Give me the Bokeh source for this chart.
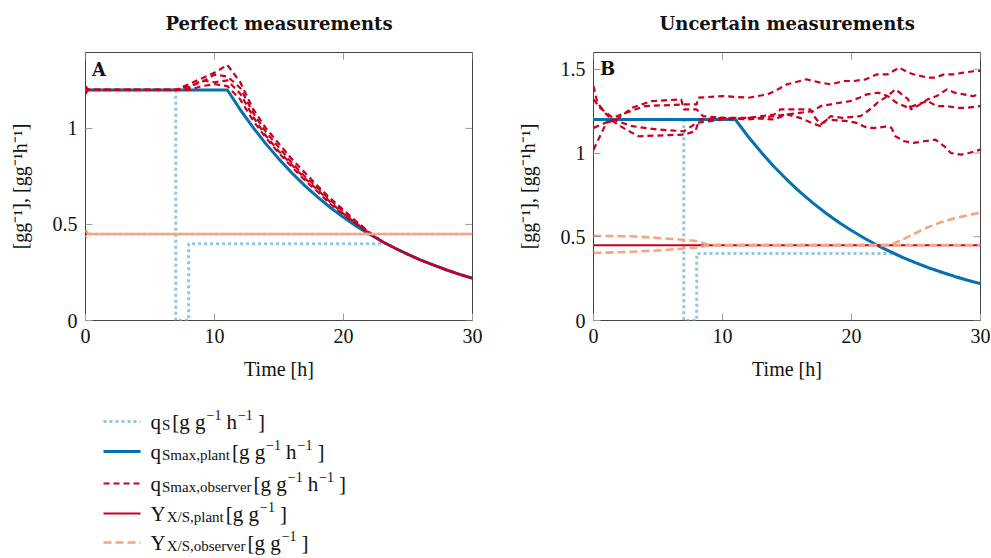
import math
from bokeh.plotting import figure
from bokeh.models import Range1d, FixedTicker, Label, ColumnDataSource
from bokeh.layouts import column, row
from bokeh.embed import file_html
from bokeh.resources import INLINE
from bokeh.core.properties import value

# ---------------- data ----------------
panel_titles = ["Perfect measurements", "Uncertain measurements"]
x_ticks = [0, 10, 20, 30]
yticks_A = [0, 0.5, 1]
yticks_B = [0, 0.5, 1, 1.5]

# plant maximal uptake rate (same in both panels)
t_plant = [0, 11, 12, 13, 14, 15, 16, 17, 18, 19, 20, 21, 22, 23, 24, 25, 26, 27, 28, 29, 30]
qsmax_plant = [1.2, 1.2, 1.097, 1.004, 0.918, 0.840, 0.768, 0.702, 0.642, 0.587, 0.537,
               0.491, 0.449, 0.411, 0.376, 0.344, 0.314, 0.288, 0.263, 0.240, 0.220]

# substrate uptake rate q_S
t_qs = [0, 7, 7, 8, 8, 23.3, 24, 25, 26, 27, 28, 29, 30]
qs = [1.2, 1.2, 0, 0, 0.4, 0.4, 0.376, 0.344, 0.314, 0.288, 0.263, 0.240, 0.220]

# plant yield
t_yplant = [0, 30]
y_plant = [0.45, 0.45]

# ---- panel A: observers (perfect measurements)
t_obsA = [0, 0.2, 7, 8, 9, 10, 11, 12, 13, 14, 15, 16, 17, 18, 19, 20, 21, 22,
          23, 24, 25, 26, 27, 28, 29, 30]
qsmax_obsA1 = [1.22, 1.2, 1.2, 1.23, 1.26, 1.29, 1.33, 1.24, 1.10, 1.00, 0.92, 0.84, 0.77, 0.70,
               0.635, 0.575, 0.515, 0.46, 0.411, 0.376, 0.344, 0.314, 0.288, 0.263, 0.240, 0.220]
qsmax_obsA2 = [1.18, 1.2, 1.2, 1.22, 1.24, 1.28, 1.27, 1.21, 1.08, 0.98, 0.90, 0.82, 0.75, 0.69,
               0.625, 0.565, 0.51, 0.458, 0.411, 0.376, 0.344, 0.314, 0.288, 0.263, 0.240, 0.220]
qsmax_obsA3 = [1.21, 1.2, 1.2, 1.21, 1.25, 1.24, 1.25, 1.18, 1.06, 0.96, 0.88, 0.81, 0.74, 0.68,
               0.615, 0.555, 0.505, 0.455, 0.411, 0.376, 0.344, 0.314, 0.288, 0.263, 0.240, 0.220]
qsmax_obsA4 = [1.19, 1.2, 1.2, 1.20, 1.22, 1.23, 1.22, 1.15, 1.04, 0.95, 0.87, 0.80, 0.73, 0.67,
               0.605, 0.55, 0.50, 0.452, 0.411, 0.376, 0.344, 0.314, 0.288, 0.263, 0.240, 0.220]
t_yobsA = [0, 0.2, 30]
y_obsA1 = [0.47, 0.45, 0.45]
y_obsA2 = [0.43, 0.45, 0.45]

# ---- panel B: observers (uncertain measurements)
t_obsB1 = [0, 0.5, 1.5, 2.5, 4, 7, 8, 8.1, 10, 12, 13.5, 14.3, 15, 16.5, 17.6, 18.4, 19.4, 20.2,
           21.1, 22, 22.8, 23.7, 24.4, 24.8, 25.9, 26.5, 27.2, 27.9, 28.7, 29.7, 30]
qsmax_obsB1 = [1.32, 1.27, 1.21, 1.24, 1.28, 1.29, 1.29, 1.33, 1.34, 1.33, 1.35, 1.38, 1.41, 1.44,
               1.42, 1.41, 1.43, 1.43, 1.44, 1.47, 1.47, 1.51, 1.48, 1.47, 1.45, 1.45, 1.47, 1.47,
               1.48, 1.49, 1.49]
t_obsB2 = [0, 1, 1.8, 3, 4.5, 6.8, 7, 8, 8.5, 10, 12, 14, 14.5, 16.8, 17.1, 17.6, 18.4, 19.3, 20.7,
           21.6, 22, 22.8, 23.4, 24.4, 24.6, 25.1, 25.9, 26.6, 27.4, 28, 28.7, 29.4, 30]
qsmax_obsB2 = [1.02, 1.18, 1.2, 1.27, 1.31, 1.32, 1.26, 1.26, 1.22, 1.21, 1.21, 1.23, 1.26, 1.26,
               1.22, 1.17, 1.22, 1.21, 1.22, 1.27, 1.30, 1.34, 1.38, 1.32, 1.26, 1.28, 1.32, 1.34,
               1.38, 1.36, 1.35, 1.34, 1.35]
t_obsB3 = [0, 0.3, 0.9, 1.5, 2.5, 3.5, 7, 7.9, 8.2, 10, 12, 14, 15, 16, 17, 17.6, 18.4, 19.1, 19.9,
           20.6, 21.2, 22.1, 22.8, 23.5, 24.4, 25.1, 25.9, 26.6, 27.4, 28.2, 29, 30]
qsmax_obsB3 = [1.40, 1.30, 1.24, 1.19, 1.14, 1.10, 1.11, 1.13, 1.20, 1.21, 1.20, 1.22, 1.23, 1.24,
               1.25, 1.28, 1.29, 1.30, 1.31, 1.33, 1.35, 1.36, 1.34, 1.30, 1.27, 1.29, 1.31, 1.28,
               1.28, 1.27, 1.27, 1.28]
t_obsB4 = [0, 1.5, 3, 5, 7, 8, 10, 12, 14, 15, 16, 16.9, 17.6, 18.1, 19.7, 20.4, 21.2, 22, 22.8,
           23.1, 23.4, 24.1, 24.8, 25.6, 26.5, 27.2, 27.7, 28.5, 29.1, 30]
qsmax_obsB4 = [1.15, 1.2, 1.16, 1.14, 1.13, 1.18, 1.20, 1.21, 1.20, 1.23, 1.21, 1.18, 1.16, 1.20,
               1.19, 1.18, 1.15, 1.15, 1.16, 1.15, 1.10, 1.07, 1.06, 1.07, 1.08, 1.04, 1.00, 0.99,
               1.00, 1.02]
t_yobsB1 = [0, 3, 6.5, 8, 9, 23, 24.3, 25.6, 26.8, 28.1, 29.4, 30]
y_obsB1 = [0.505, 0.503, 0.485, 0.475, 0.45, 0.45, 0.496, 0.546, 0.583, 0.613, 0.635, 0.645]
t_yobsB2 = [0, 3, 5.4, 7, 7.9, 9, 30]
y_obsB2 = [0.403, 0.41, 0.42, 0.43, 0.435, 0.45, 0.45]

# ---------------- styles ----------------
C_QS = "#92c5de"
C_QMAX = "#0571b0"
C_RED = "#ca0020"
C_ORANGE = "#f4a582"
C_TICK = "#9a9a9a"
SERIF = "Liberation Serif"
BOLD = "DejaVu Serif"


def make_panel(ymax, yticks, min_left, min_right, width):
    p = figure(width=width, height=350, output_backend="svg", toolbar_location=None,
               x_range=Range1d(0, 30), y_range=Range1d(0, ymax),
               min_border_left=min_left, min_border_right=min_right,
               min_border_top=12, min_border_bottom=70)
    p.grid.visible = False
    p.outline_line_color = "#444444"
    p.outline_line_width = 1
    p.background_fill_color = "white"
    p.border_fill_color = "white"

    p.xaxis.ticker = FixedTicker(ticks=x_ticks)
    p.yaxis.ticker = FixedTicker(ticks=yticks)
    p.xaxis.axis_label = "Time [h]"
    p.yaxis.axis_label = "[gg\u207b\u00b9], [gg\u207b\u00b9h\u207b\u00b9]"
    for ax in (p.xaxis[0], p.yaxis[0]):
        ax.axis_line_color = None
        ax.major_tick_in = 7
        ax.major_tick_out = 0
        ax.minor_tick_line_color = None
        ax.major_tick_line_color = C_TICK
        ax.major_label_text_font = SERIF
        ax.major_label_text_font_size = "20px"
        ax.major_label_text_color = "#111111"
        ax.major_label_standoff = 8
        ax.axis_label_text_font = SERIF
        ax.axis_label_text_font_size = "20px"
        ax.axis_label_text_font_style = "normal"
        ax.axis_label_text_color = "#111111"
        ax.axis_label_standoff = 12
    p.yaxis[0].axis_label_standoff = 19
    p.yaxis[0].major_label_orientation = "horizontal"

    # mirrored inward ticks on the top and right edges
    p.ray(x=x_ticks, y=[ymax] * len(x_ticks), length=7, length_units="screen",
          angle=-math.pi / 2, line_color=C_TICK, line_width=1)
    p.ray(x=[30] * len(yticks), y=yticks, length=7, length_units="screen",
          angle=math.pi, line_color=C_TICK, line_width=1)
    return p


# ---------------- titles strip ----------------
tfig = figure(width=991, height=40, output_backend="svg", toolbar_location=None,
              x_range=Range1d(0, 991), y_range=Range1d(40, 0),
              min_border_left=0, min_border_right=0, min_border_top=0, min_border_bottom=0)
tfig.axis.visible = False
tfig.grid.visible = False
tfig.outline_line_color = None
tfig.border_fill_color = "white"
tfig.text(x=[278.5, 786.7], y=[23, 23], text=panel_titles, text_font=value(BOLD),
          text_font_style="bold", text_font_size=value("18px"), text_align="center",
          text_baseline="middle", text_color="#111111")

# ---------------- panel A ----------------
pA = make_panel(1.395, yticks_A, 85, 23, 495)
pA.line(t_qs, qs, color=C_QS, line_width=3, line_dash="3 3")
pA.line(t_plant, qsmax_plant, color=C_QMAX, line_width=3)
for s in (qsmax_obsA1, qsmax_obsA2, qsmax_obsA3, qsmax_obsA4):
    pA.line(t_obsA, s, color=C_RED, line_width=2.2, line_dash="6 4")
pA.line(t_yplant, y_plant, color=C_RED, line_width=2)
pA.line(t_yobsA, y_obsA1, color=C_ORANGE, line_width=2.6, line_dash="8 4")
pA.line(t_yobsA, y_obsA2, color=C_ORANGE, line_width=2.6, line_dash="8 4", line_dash_offset=6)
pA.add_layout(Label(x=0.5, y=1.36, text="A", text_font=BOLD, text_font_style="bold",
                    text_font_size="18px", text_baseline="top", text_color="#111111"))

# ---------------- panel B ----------------
pB = make_panel(1.6, yticks_B, 98, 11, 496)
pB.line(t_qs, qs, color=C_QS, line_width=3, line_dash="3 3")
pB.line(t_plant, qsmax_plant, color=C_QMAX, line_width=3)
pB.line(t_obsB1, qsmax_obsB1, color=C_RED, line_width=2.2, line_dash="6 4")
pB.line(t_obsB2, qsmax_obsB2, color=C_RED, line_width=2.2, line_dash="6 4")
pB.line(t_obsB3, qsmax_obsB3, color=C_RED, line_width=2.2, line_dash="6 4")
pB.line(t_obsB4, qsmax_obsB4, color=C_RED, line_width=2.2, line_dash="6 4")
pB.line(t_yplant, y_plant, color=C_RED, line_width=2)
pB.line(t_yobsB1, y_obsB1, color=C_ORANGE, line_width=2.6, line_dash="8 4")
pB.line(t_yobsB2, y_obsB2, color=C_ORANGE, line_width=2.6, line_dash="8 4")
pB.add_layout(Label(x=0.5, y=1.565, text="B", text_font=BOLD, text_font_style="bold",
                    text_font_size="18px", text_baseline="top", text_color="#111111"))

# ---------------- legend ----------------
W = {' ': 250, '[': 333, ']': 333, 'g': 500, 'h': 500, 'q': 500, 'S': 556, 'm': 778, 'a': 444,
     'x': 500, ',': 250, 'p': 500, 'l': 278, 'n': 500, 't': 278, 'o': 500, 'b': 500, 's': 389,
     'e': 444, 'r': 333, 'v': 500, 'Y': 722, 'X': 722, '/': 278, '\u2212': 564, '1': 500}


def tw(s, size):
    return sum(W.get(c, 500) for c in s) * size / 1000.0


legend_entries = [
    [("q", "n"), ("S", "b"), ("[g g", "n"), ("\u22121", "p"), ("h", "n"), ("\u22121", "p"), ("]", "n")],
    [("q", "n"), ("Smax,plant", "b"), ("[g g", "n"), ("\u22121", "p"), ("h", "n"), ("\u22121", "p"), ("]", "n")],
    [("q", "n"), ("Smax,observer", "b"), ("[g g", "n"), ("\u22121", "p"), ("h", "n"), ("\u22121", "p"), ("]", "n")],
    [("Y", "n"), ("X/S,plant", "b"), ("[g g", "n"), ("\u22121", "p"), ("]", "n")],
    [("Y", "n"), ("X/S,observer", "b"), ("[g g", "n"), ("\u22121", "p"), ("]", "n")],
]
legend_styles = [
    dict(color=C_QS, line_width=3, line_dash="3 3"),
    dict(color=C_QMAX, line_width=3),
    dict(color=C_RED, line_width=2.2, line_dash="6 4"),
    dict(color=C_RED, line_width=2.2),
    dict(color=C_ORANGE, line_width=2.6, line_dash="8 4"),
]
row_y = [31, 61, 93, 123, 152]

leg = figure(width=991, height=168, output_backend="svg", toolbar_location=None,
             x_range=Range1d(0, 991), y_range=Range1d(168, 0),
             min_border_left=0, min_border_right=0, min_border_top=0, min_border_bottom=0)
leg.axis.visible = False
leg.grid.visible = False
leg.outline_line_color = None
leg.border_fill_color = "white"

sizes = {"n": 21, "b": 15, "p": 14}
dy = {"n": 0, "b": 3, "p": -7}
gap_after = {"n": 1, "b": 2, "p": 5}
parts = {k: dict(x=[], y=[], text=[]) for k in sizes}
for segs, st, yy in zip(legend_entries, legend_styles, row_y):
    leg.line([103, 140], [yy, yy], **st)
    x = 150.0
    for txt, kind in segs:
        parts[kind]["x"].append(x)
        parts[kind]["y"].append(yy + dy[kind])
        parts[kind]["text"].append(txt)
        x += tw(txt, sizes[kind]) + gap_after[kind]
for kind, d in parts.items():
    leg.text(x="x", y="y", text="text", source=ColumnDataSource(d),
             text_font=value(SERIF), text_font_size=value(f"{sizes[kind]}px"),
             text_baseline="alphabetic", text_align="left", text_color="#111111")

layout = column(tfig, row(pA, pB), leg)
open("out.html", "w").write(file_html(layout, INLINE))
